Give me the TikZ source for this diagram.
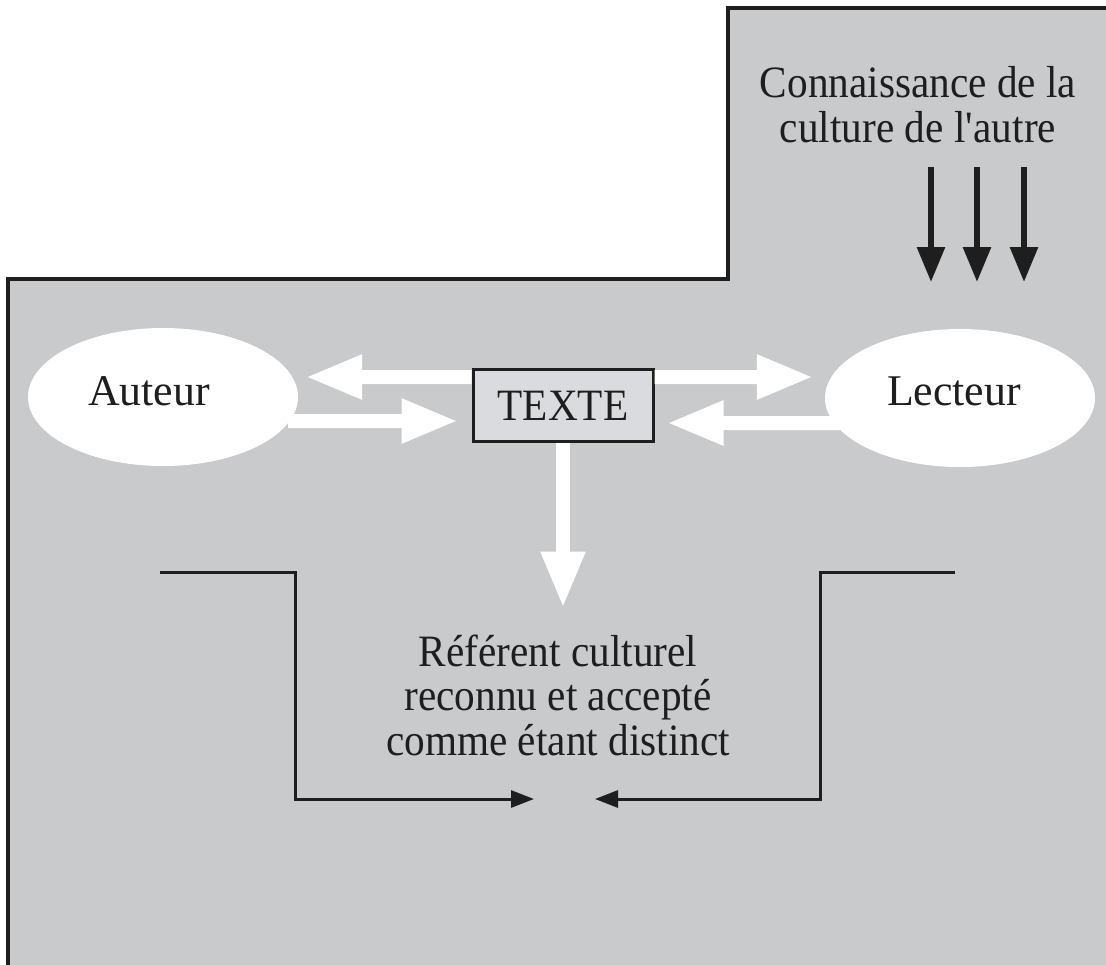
\documentclass[tikz,border=0pt]{standalone}
\usepackage{fontspec}
\setmainfont{Liberation Serif}[FakeStretch=0.92]
\newfontfamily\widefont{Liberation Serif}
\usetikzlibrary{arrows.meta,shapes.geometric}
\definecolor{bggray}{RGB}{201,202,204}
\definecolor{boxgray}{RGB}{218,219,222}
\definecolor{ink}{RGB}{30,30,30}
\tikzset{
  lbl/.style={text=ink, font=\fontsize{45}{44.5}\selectfont, inner sep=0pt, align=center},
  widelbl/.style={text=ink, font=\widefont\fontsize{44}{44}\selectfont, inner sep=0pt},
  ell/.style={ellipse, fill=white, inner sep=0pt, minimum width=270bp, minimum height=138bp},
  fat/.style={white, line width=14bp, -{Triangle[length=57bp,width=41bp]}},
  blackarrow/.style={ink, line width=6bp, -{Triangle[length=35bp,width=27bp]}},
  thinarrow/.style={ink, line width=3bp, -{Triangle[length=23bp,width=17bp]}},
}
\begin{document}
\begin{tikzpicture}[x=1bp,y=-1bp]
\useasboundingbox (0,0) rectangle (1106,965);
\fill[bggray] (8,965) -- (8,279) -- (728,279) -- (728,8) -- (1106,8) -- (1106,965) -- cycle;
\draw[ink, line width=4bp, miter limit=10] (8,965) -- (8,279) -- (728,279) -- (728,8) -- (1106,8);

\node[ell] (auteur) at (163,397) {};
\node[ell] (lecteur) at (960,398) {};
\node[widelbl, anchor=base] (auteurtxt) at (149,405) {Auteur};
\node[widelbl, anchor=base] (lecteurtxt) at (954,405) {Lecteur};
\node[draw=ink, line width=3bp, fill=boxgray, minimum width=180bp, minimum height=72bp, inner sep=0pt, text=ink, font=\fontsize{45}{44}\selectfont] (texte) at (563,405.5) {TEXTE};

\node[lbl, anchor=base] (connais) at (918,142) {Connaissance de la\\culture de l\textquotesingle autre};
\node[lbl, anchor=base] (referent) at (558,755) {Référent culturel\\reconnu et accepté\\comme étant distinct};

% white fat arrows
\draw[fat] ([yshift=28.5bp]texte.west) -- ([shift={(7bp,20bp)}]auteur.east);
\draw[fat] ([yshift=28.5bp]texte.east) -- ([shift={(-11bp,21bp)}]lecteur.west);
\draw[fat] ([shift={(-10bp,-24bp)}]auteur.east) -- ([shift={(-13bp,-15.5bp)}]texte.west);
\draw[fat] ([shift={(15bp,-25bp)}]lecteur.west) -- ([shift={(12bp,-17.5bp)}]texte.east);
\draw[fat] (texte.south) -- ++(0,165.5);

% black arrows from knowledge
\coordinate (k1) at (931,167); \coordinate (k2) at (977,167); \coordinate (k3) at (1024,167);
\draw[blackarrow] (k1) -- ++(0,115);
\draw[blackarrow] (k2) -- ++(0,115);
\draw[blackarrow] (k3) -- ++(0,115);

% bracket lines
\coordinate (bl) at (160,572); \coordinate (br) at (955,572);
\coordinate (tl) at (534,799); \coordinate (tr) at (595,799);
\draw[thinarrow] (bl) -- (295,572) -- (295,799) -- (tl);
\draw[thinarrow] (br) -- (820,572) -- (820,799) -- (tr);
\end{tikzpicture}
\end{document}
